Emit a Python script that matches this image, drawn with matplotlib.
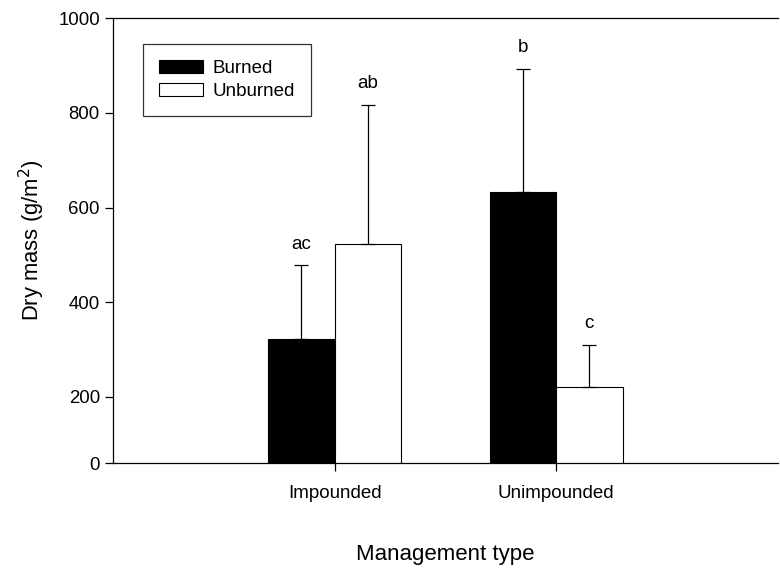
import matplotlib
matplotlib.use("Agg")
import matplotlib.pyplot as plt
import numpy as np

plt.rcParams['font.family'] = ['Liberation Sans', 'DejaVu Sans']

categories = ["Impounded", "Unimpounded"]
burned = [323, 632]
burned_err = [155, 261]
unburned = [524, 220]
unburned_err = [293, 90]
letters_burned = ["ac", "b"]
letters_unburned = ["ab", "c"]
# The reference's y axis is compressed below 200: its bottom edge (labelled 0)
# sits where ~60 would fall on the 200-1000 scale.
ytick_values = [60, 200, 400, 600, 800, 1000]
ytick_labels = ["0", "200", "400", "600", "800", "1000"]

fig = plt.figure(figsize=(7.8, 5.69), dpi=100)
ax = fig.add_axes([0.145, 0.186, 0.852, 0.782])

x = np.array([1, 2])
w = 0.3
ax.bar(x - w/2, burned, w, color='black', edgecolor='black', linewidth=0.8, label='Burned')
ax.bar(x + w/2, unburned, w, color='white', edgecolor='black', linewidth=0.8, label='Unburned')
ax.errorbar(x - w/2, burned, yerr=[np.zeros(2), burned_err], fmt='none', ecolor='black',
            elinewidth=0.9, capsize=5, capthick=0.9)
ax.errorbar(x + w/2, unburned, yerr=[np.zeros(2), unburned_err], fmt='none', ecolor='black',
            elinewidth=0.9, capsize=5, capthick=0.9)
for xi, v, e, t in zip(x - w/2, burned, burned_err, letters_burned):
    ax.text(xi, v + e + 27, t, ha='center', va='bottom', fontsize=13.5)
for xi, v, e, t in zip(x + w/2, unburned, unburned_err, letters_unburned):
    ax.text(xi, v + e + 27, t, ha='center', va='bottom', fontsize=13.5)

ax.set_xlim(0, 3)
ax.set_ylim(ytick_values[0], ytick_values[-1])
ax.set_xticks(x)
ax.set_xticklabels(categories, fontsize=13.5)
ax.set_yticks(ytick_values)
ax.set_yticklabels(ytick_labels)
ax.tick_params(axis='y', labelsize=13.4, length=6, width=0.9)
ax.tick_params(axis='x', length=6, width=0.9, pad=10)
ax.spines['right'].set_visible(False)
for s in ['left', 'bottom', 'top']:
    ax.spines[s].set_linewidth(0.9)
ax.set_xlabel("Management type", fontsize=16, labelpad=30)
ax.set_ylabel("Dry mass (g/m$^2$)", fontsize=15.8, labelpad=8)

leg = ax.legend(loc='upper left', bbox_to_anchor=(0.045, 0.9416), fontsize=13.5, frameon=True,
                fancybox=False, edgecolor='black', handlelength=2.35, handleheight=0.7,
                borderpad=0.85, labelspacing=0.32, handletextpad=0.5, borderaxespad=0)
leg.get_frame().set_linewidth(0.9)

fig.savefig("out.png", dpi=100)
